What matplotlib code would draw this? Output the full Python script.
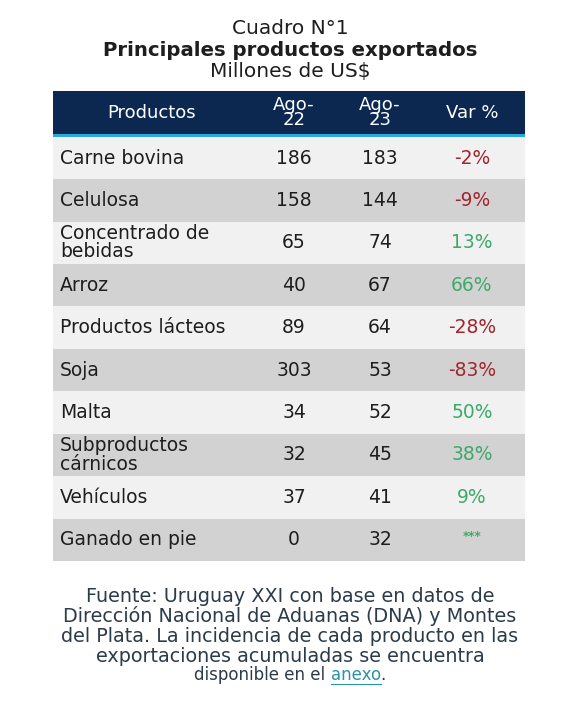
import matplotlib
matplotlib.use("Agg")
import matplotlib.pyplot as plt
from matplotlib.patches import Rectangle

productos = ["Carne bovina", "Celulosa", "Concentrado de\nbebidas", "Arroz",
             "Productos lácteos", "Soja", "Malta", "Subproductos\ncárnicos",
             "Vehículos", "Ganado en pie"]
ago22 = [186, 158, 65, 40, 89, 303, 34, 32, 37, 0]
ago23 = [183, 144, 74, 67, 64, 53, 52, 45, 41, 32]
var_pct = ["-2%", "-9%", "13%", "66%", "-28%", "-83%", "50%", "38%", "9%", "***"]
headers = ["Productos", "Ago-\n22", "Ago-\n23", "Var %"]

FONT = ["DejaVu Sans"]
plt.rcParams['font.family'] = FONT

W, H = 580, 710
fig = plt.figure(figsize=(W / 100, H / 100), dpi=100)
fig.patch.set_facecolor("white")

def fy(y):
    return 1 - y / H
def fx(x):
    return x / W

TXT = "#1e1e1e"
fig.text(fx(290), fy(28), "Cuadro N°1", ha="center", va="center", fontsize=14.5, color=TXT)
fig.text(fx(290), fy(50), "Principales productos exportados", ha="center", va="center",
         fontsize=14.2, fontweight="bold", color=TXT)
fig.text(fx(290), fy(72), "Millones de US$", ha="center", va="center", fontsize=14.5, color=TXT)

left, right, top, bottom = 53, 525, 91, 561
ax = fig.add_axes([fx(left), fy(bottom), (right - left) / W, (bottom - top) / H])
ax.set_axis_off()
n = len(productos)
header_h = 1.08
ax.set_xlim(left, right)
ax.set_ylim(n + header_h, 0)

navy = "#0C2851"
ax.add_patch(Rectangle((left, 0), right - left, header_h, facecolor=navy, edgecolor="none"))
ax.add_patch(Rectangle((left, header_h - 0.06), right - left, 0.06, facecolor="#2AA7DF", edgecolor="none"))

col_x = [152, 294, 380, 472]
for i, h in enumerate(headers):
    ax.text(col_x[i], header_h / 2 - 0.03, h, ha="center", va="center", color="white",
            fontsize=13, linespacing=0.8)

red = "#A3262E"
green = "#3DAA69"
FS = 13.5
for i in range(n):
    y0 = header_h + i
    fc = "#F1F1F1" if i % 2 == 0 else "#D2D2D2"
    ax.add_patch(Rectangle((left, y0), right - left, 1, facecolor=fc, edgecolor="none"))
    yc = y0 + 0.5
    ax.text(60, yc, productos[i], ha="left", va="center", fontsize=FS, color=TXT,
            linespacing=0.95)
    ax.text(col_x[1], yc, str(ago22[i]), ha="center", va="center", fontsize=FS, color=TXT)
    ax.text(col_x[2], yc, str(ago23[i]), ha="center", va="center", fontsize=FS, color=TXT)
    v = var_pct[i]
    col = red if v.startswith("-") else green
    if v == "***":
        ax.text(col_x[3], yc - 0.08, v, ha="center", va="center", fontsize=8.5,
                fontweight="bold", color=green)
    else:
        ax.text(col_x[3], yc, v, ha="center", va="center", fontsize=FS, color=col)

foot_col = "#2C3B4A"
foot = ["Fuente: Uruguay XXI con base en datos de",
        "Dirección Nacional de Aduanas (DNA) y Montes",
        "del Plata. La incidencia de cada producto en las",
        "exportaciones acumuladas se encuentra"]
ys = [597, 616, 636, 656]
for t, y in zip(foot, ys):
    fig.text(fx(290), fy(y), t, ha="center", va="center", fontsize=13.8, color=foot_col)

LFS = 12
t1 = fig.text(fx(290), fy(675), "disponible en el ", ha="right", va="center", fontsize=LFS, color=foot_col)
fig.canvas.draw()
r = fig.canvas.get_renderer()
bb1 = t1.get_window_extent(r)
t2 = fig.text(0, fy(675), "anexo", ha="left", va="center", fontsize=LFS, color="#2B93A8")
t3 = fig.text(0, fy(675), ".", ha="left", va="center", fontsize=LFS, color=foot_col)
bb2 = t2.get_window_extent(r)
bb3 = t3.get_window_extent(r)
total = bb1.width + bb2.width + bb3.width
start = 290 - total / 2
t1.set_ha("left")
t1.set_x(fx(start))
t2.set_x(fx(start + bb1.width))
t3.set_x(fx(start + bb1.width + bb2.width))
fig.canvas.draw()
bb2 = t2.get_window_extent(r)
fig.add_artist(plt.Line2D([bb2.x0 / W, bb2.x1 / W], [fy(684), fy(684)], color="#2B93A8", lw=0.8))

fig.savefig("out.png", dpi=100, facecolor="white")
